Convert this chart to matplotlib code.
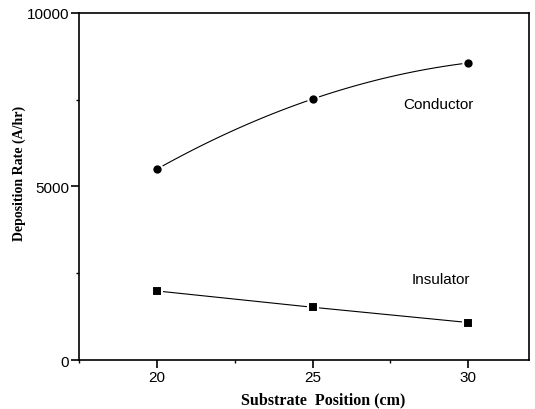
import matplotlib.pyplot as plt
import numpy as np
from matplotlib.ticker import MultipleLocator

# data
position = [20, 25, 30]
conductor = [5500, 7520, 8560]
insulator = [1990, 1520, 1080]

fig = plt.figure(figsize=(5.35, 4.1), dpi=100)
ax = fig.add_axes([0.1477, 0.1195, 0.8411, 0.8464])

# smooth curve through the conductor points
coef = np.polyfit(position, conductor, 2)
xs = np.linspace(position[0], position[-1], 100)
ax.plot(xs, np.polyval(coef, xs), color='black', lw=0.8)
ax.plot(position, conductor, 'o', color='black', ms=7.5,
        mec='white', mew=1.5)

ax.plot(position, insulator, '-', color='black', lw=0.8)
ax.plot(position, insulator, 's', color='black', ms=7,
        mec='white', mew=1.5)

# labels placed in pixel coords (from top-left)
H = 410
ax.text(403, H - 105, 'Conductor', transform=None, fontsize=11,
        family='Liberation Sans', va='center')
ax.text(412, H - 280, 'Insulator', transform=None, fontsize=11,
        family='Liberation Sans', va='center')

ax.set_xlim(17.5, 31.95)
ax.set_ylim(0, 10000)
ax.xaxis.set_major_locator(MultipleLocator(5))
ax.xaxis.set_minor_locator(MultipleLocator(2.5))
ax.yaxis.set_major_locator(MultipleLocator(5000))
ax.yaxis.set_minor_locator(MultipleLocator(2500))
ax.tick_params(which='major', direction='out', length=5.5, width=1.2,
               labelsize=11, pad=1.5)
ax.tick_params(which='minor', direction='out', length=2.5, width=1.0)
for lab in ax.get_xticklabels() + ax.get_yticklabels():
    lab.set_family('Liberation Sans')
for sp in ax.spines.values():
    sp.set_linewidth(1.2)

fig.text(323.5 / 535, 1 - 400 / H, 'Substrate  Position (cm)',
         family='Liberation Serif', fontweight='bold', fontsize=11.5,
         ha='center', va='center')
fig.text(19 / 535, 1 - 173 / H, 'Deposition Rate (A/hr)',
         family='Liberation Serif', fontweight='bold', fontsize=10,
         rotation=90, ha='center', va='center')

fig.savefig('out.png', dpi=100)
